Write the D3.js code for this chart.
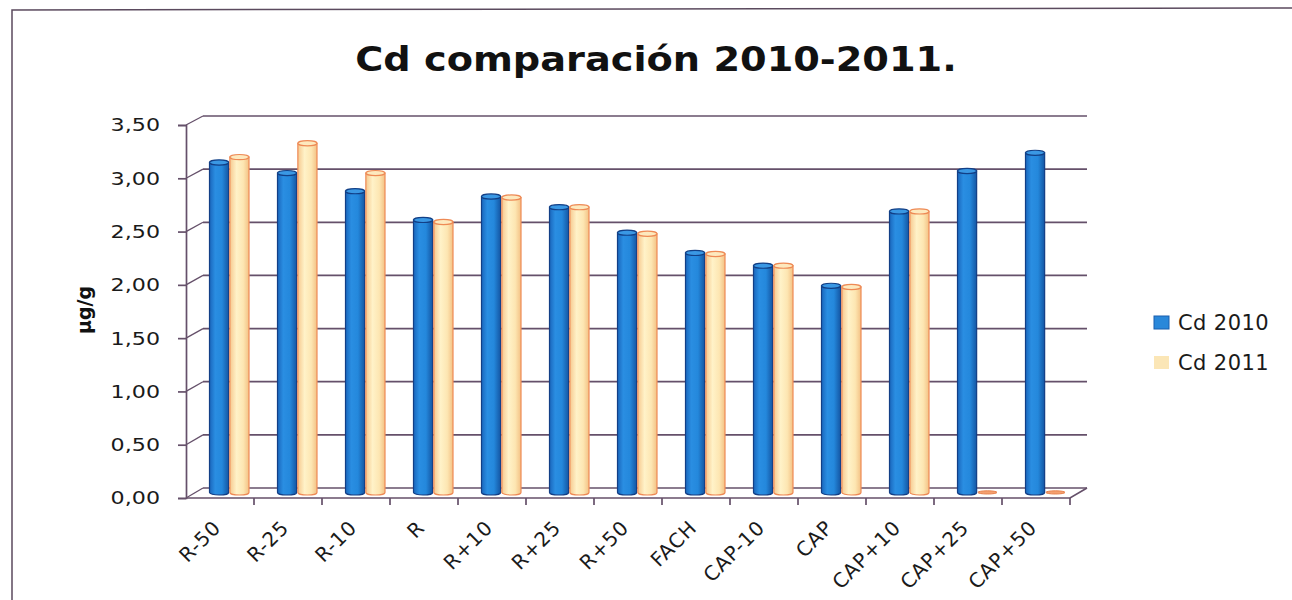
<!DOCTYPE html>
<html><head><meta charset="utf-8">
<script src="https://cdn.jsdelivr.net/npm/d3@7"></script>
<style>body{margin:0;background:#fff}svg{display:block}</style>
</head><body>
<svg id="c" width="1292" height="600"></svg>
<script>
const categories = ["R-50","R-25","R-10","R","R+10","R+25","R+50","FACH","CAP-10","CAP","CAP+10","CAP+25","CAP+50"];
const seriesNames = ["Cd 2010","Cd 2011"];
const cd2010 = [3.15,3.05,2.88,2.61,2.83,2.73,2.49,2.30,2.18,1.99,2.69,3.07,3.24];
const cd2011 = [3.20,3.33,3.05,2.59,2.82,2.73,2.48,2.29,2.18,1.98,2.69,0,0];
const yTicks = [0,0.5,1,1.5,2,2.5,3,3.5];
const titleText = "Cd comparación 2010-2011.";
const yTitle = "µg/g";

const svg = d3.select("#c");
const font = "DejaVu Sans, Verdana, sans-serif";
const loc = d3.formatLocale({decimal:",",thousands:".",grouping:[3],currency:["",""]});
const fmt = loc.format(".2f");
const textCol = "#1a1a1a";

// frame
svg.append("path").attr("d","M12,600 L12,10 L1292,8").attr("fill","none").attr("stroke","#5b4a5e").attr("stroke-width",1.5);

// scales
const x = d3.scaleBand().domain(categories).range([186,1070]);
const yFront = d3.scaleLinear().domain([0,3.5]).range([498,125]);
const yBack = d3.scaleLinear().domain([0,3.5]).range([488,116]);
const yBar = d3.scaleLinear().domain([0,3.5]).range([495,495-372.4]);
const xs = d3.scaleBand().domain(seriesNames).range([23.5,63]).paddingInner(0.06);
const dx = 17;
const gridCol = "#65506a";

// gridlines on back wall + diagonals from front ticks
const g = svg.append("g");
yTicks.forEach(t=>{
  g.append("line").attr("x1",186+dx).attr("x2",1070+dx).attr("y1",yBack(t)).attr("y2",yBack(t))
   .attr("stroke",gridCol).attr("stroke-width",1.7);
  g.append("line").attr("x1",186).attr("y1",yFront(t)).attr("x2",186+dx).attr("y2",yBack(t))
   .attr("stroke",gridCol).attr("stroke-width",1.3);
});
g.append("path").attr("d",`M186,${yFront(0)} L1070,${yFront(0)} L${1070+dx},${yBack(0)}`)
 .attr("fill","none").attr("stroke",gridCol).attr("stroke-width",1.7);

// y axis
const sx = 1.2;
const ya = svg.append("g").attr("transform","translate(186,0)")
  .call(d3.axisLeft(yFront).tickValues(yTicks).tickSize(8).tickPadding(18).tickFormat(fmt));
ya.select(".domain").attr("stroke",gridCol).attr("stroke-width",1.7);
ya.selectAll(".tick line").attr("stroke",gridCol).attr("stroke-width",1.7);
ya.selectAll(".tick text").attr("x",-26/sx).attr("transform",`scale(${sx},1)`)
  .attr("font-family",font).attr("font-size",18.5).attr("fill",textCol);

// x axis ticks
const xa = svg.append("g");
categories.forEach((c,i)=>{
  const xx = x(c);
  if(i>0) xa.append("line").attr("x1",xx).attr("x2",xx).attr("y1",yFront(0)).attr("y2",yFront(0)+7)
     .attr("stroke",gridCol).attr("stroke-width",1.7);
});
xa.append("line").attr("x1",1070).attr("x2",1070).attr("y1",yFront(0)).attr("y2",yFront(0)+7).attr("stroke",gridCol).attr("stroke-width",1.7);
categories.forEach(c=>{
  const cx = x(c)+x.bandwidth()/2+2, cy = yFront(0)+31;
  xa.append("text").attr("transform",`translate(${cx},${cy}) rotate(-45)`)
    .attr("text-anchor","end").attr("font-family",font).attr("font-size",20).attr("letter-spacing",0.8)
    .attr("fill",textCol).text(c);
});

// gradients
const defs = svg.append("defs");
function grad(id, stops){
  const lg = defs.append("linearGradient").attr("id",id).attr("x1",0).attr("x2",1).attr("y1",0).attr("y2",0);
  stops.forEach(s=>lg.append("stop").attr("offset",s[0]).attr("stop-color",s[1]));
}
grad("gb",[[0,"#1a66bc"],[0.3,"#2a8ee2"],[0.65,"#2488dc"],[1,"#1456a3"]]);
grad("go",[[0,"#f6c98f"],[0.35,"#fff2c8"],[0.7,"#fde6b2"],[1,"#f3c184"]]);
const styles = [{fill:"url(#gb)",cap:"#3a98e4",stroke:"#123f86"},{fill:"url(#go)",cap:"#fde9be",stroke:"#ee8a55"}];

const ry = 2.6;
[cd2010,cd2011].forEach((vals,si)=>{
  const st = styles[si];
  const bg = svg.append("g");
  vals.forEach((v,i)=>{
    const bx = x(categories[i]) + xs(seriesNames[si]);
    const w = xs.bandwidth();
    const top = yBar(v), bot = yBar(0);
    const rx = w/2, cx = bx+rx;
    const yt = top+ry, yb = bot-ry;
    if (v>0){
      bg.append("path").attr("d",`M${bx},${yt} L${bx},${yb} A${rx},${ry} 0 0 0 ${bx+w},${yb} L${bx+w},${yt} Z`)
        .attr("fill",st.fill).attr("stroke",st.stroke).attr("stroke-width",1.2);
      bg.append("ellipse").attr("cx",cx).attr("cy",yt).attr("rx",rx).attr("ry",ry)
        .attr("fill",st.cap).attr("stroke",st.stroke).attr("stroke-width",1.2);
    } else {
      bg.append("ellipse").attr("cx",cx).attr("cy",yb).attr("rx",rx).attr("ry",1.6)
        .attr("fill","#f4a070").attr("stroke","#e8804a").attr("stroke-width",1);
    }
  });
});

// title
svg.append("text").attr("transform","translate(656,71) scale(1.16,1)").attr("text-anchor","middle")
  .attr("font-family",font).attr("font-weight","bold").attr("font-size",33).attr("fill","#111").text(titleText);
// y title
svg.append("text").attr("transform","translate(91,310) rotate(-90)").attr("text-anchor","middle")
  .attr("font-family",font).attr("font-weight","bold").attr("font-size",19).attr("fill","#111").text(yTitle);

// legend
const lg = svg.append("g");
seriesNames.forEach((s,i)=>{
  const yy = 323 + i*40;
  lg.append("rect").attr("x",1154).attr("y",yy-7).attr("width",15).attr("height",13)
    .attr("fill", i===0?"#2a88da":"#fbe6b6").attr("stroke",i===0?"#1a5fae":"none");
  lg.append("text").attr("x",1178).attr("y",yy).attr("dy","0.35em").attr("font-family",font)
    .attr("font-size",21).attr("letter-spacing",0.4).attr("fill",textCol).text(s);
});
</script>
</body></html>
